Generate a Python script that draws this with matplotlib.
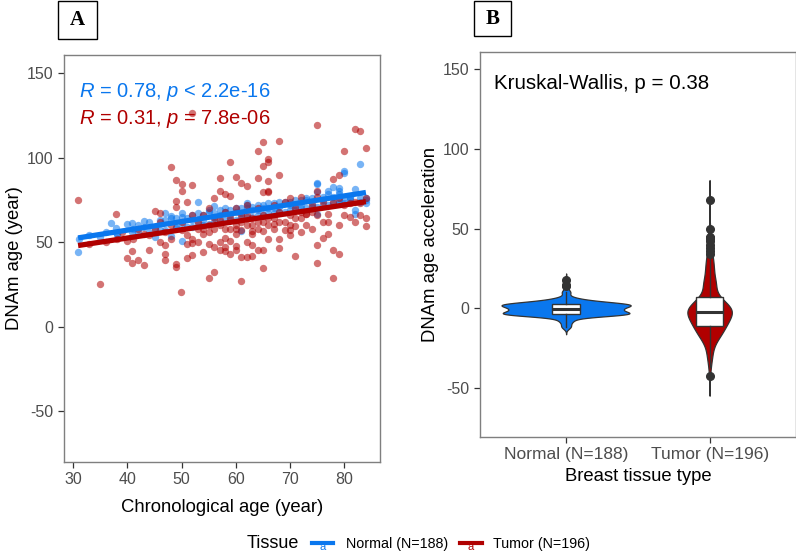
import numpy as np
import matplotlib
matplotlib.use("Agg")
from matplotlib import pyplot as plt
from matplotlib.lines import Line2D
from matplotlib.patches import Rectangle

plt.rcParams['font.family'] = ['Liberation Sans', 'DejaVu Sans']
plt.rcParams['axes.unicode_minus'] = False
plt.rcParams['mathtext.fontset'] = 'custom'
plt.rcParams['mathtext.rm'] = 'Liberation Sans'
plt.rcParams['mathtext.it'] = 'Liberation Sans:italic'

# ---- data (chronological age, DNAm age) ----
normal_age = [30.9, 31, 33, 35, 36, 37, 37.9, 38, 39.9, 40.9, 41.9, 40.9, 43, 45, 45, 46.9, 48, 48, 49, 50,
              50, 53, 55, 56, 74.9, 78, 80, 82, 84, 84, 77, 79, 80, 81, 75, 75, 75, 82, 82, 61,
              82.9, 80, 75, 79, 79, 42, 44, 46, 47, 48, 49, 50, 51, 51, 52, 52, 53, 53, 54, 54,
              55, 55, 56, 56, 57, 57, 58, 58, 58, 59, 59, 60, 60, 60, 61, 61, 62, 62, 62, 63,
              63, 64, 64, 64, 65, 65, 66, 66, 66, 67, 67, 68, 68, 69, 69, 70, 70, 71, 71, 72,
              72, 73, 73, 74, 74, 76, 76, 77, 78, 78, 79, 80, 81, 83, 84, 44, 46, 47, 49, 54,
              57, 59, 63, 65, 68, 70, 72, 74, 76, 81, 83, 38, 41, 43, 50, 52, 56, 61, 67, 71,
              79, 77, 73, 62]
normal_dnam = [44.4, 52, 54, 53, 56, 61.6, 58.6, 55, 60.6, 61.6, 55.7, 55.7, 62.6, 58.6, 53.3, 67.5, 65.6, 53.7, 58.6, 67.5,
               50.6, 73.9, 69.3, 71.3, 84.7, 82.8, 91.2, 81.4, 76, 72.9, 78.4, 78.4, 76, 76.4, 79.8, 66.9, 70.5, 69, 66.6, 56.7,
               96.4, 92.2, 85.3, 82, 80, 60, 56, 63, 57, 64, 59, 65, 59, 64, 66, 59, 61, 67, 60, 66,
               68, 61, 62, 67, 69, 62, 63, 68, 70, 63, 69, 70, 63, 68, 64, 70, 65, 70, 72, 65,
               71, 66, 72, 69, 66, 72, 67, 73, 70, 67, 73, 68, 74, 68, 74, 69, 74, 69, 75, 70,
               75, 70, 75, 71, 76, 72, 77, 72, 73, 77, 73, 73, 77, 74, 75, 62, 57, 63, 64, 63,
               66, 66, 69, 70, 71, 72, 72, 73, 75, 75, 76, 55, 58, 59, 61, 63, 65, 67, 70, 72,
               75, 80, 76, 73]

tumor_age = [30.9, 34.9, 37.9, 40, 40.9, 44, 40, 40.9, 41.9, 43, 49.9, 49, 49, 47, 47, 46, 47, 51, 52, 51,
             52, 55, 56, 57, 56, 55, 46, 61, 65, 78, 75, 75, 76, 77, 78, 79, 84, 82, 81, 79,
             71, 68, 63, 64, 65, 63, 62, 61, 59, 60, 58, 59, 60, 58, 65, 70, 71, 73, 77, 75,
             82, 83, 84, 80, 65, 68, 64, 66, 66, 65, 59, 60, 61, 62, 64, 66, 68, 79, 78, 75,
             65, 66, 48, 49, 50, 52, 50, 49, 51, 49, 57, 57, 56, 45, 52, 75, 72, 70, 73, 70,
             69, 67, 63, 63, 66, 58, 59, 32.9, 50, 51, 54, 42, 44, 38, 36, 46, 48, 53, 54, 55,
             57, 58, 60, 61, 62, 64, 66, 67, 68, 69, 71, 72, 74, 76, 78, 80, 81, 83, 84, 53,
             55, 56, 58, 60, 61, 62, 64, 65, 67, 70, 73, 74, 76, 79, 80, 82, 47, 48, 45, 43,
             41, 39, 52, 53, 54, 57, 58, 59, 60, 62, 63, 66, 68, 69, 72, 74, 77, 83, 84, 50,
             52, 54, 55, 56, 57, 59, 60, 61, 62, 63, 64, 65, 66, 67, 68, 70, 71, 72, 75]
tumor_dnam = [75.0, 25.1, 66.4, 50.8, 44.8, 45.3, 40.5, 37.9, 39.5, 36.4, 20.7, 37, 35, 43.2, 39.3, 50.2, 48.4, 40.5, 42.5, 48.8,
              49.2, 48.8, 47.2, 45.4, 32.4, 28.7, 67.4, 27.1, 34.4, 28.7, 37.9, 48.2, 52.7, 55.1, 45.4, 42.7, 59.7, 62.2, 65, 60.1,
              41.9, 46.8, 48.2, 45.4, 45.4, 41.7, 40.9, 41.3, 42.7, 45.3, 44.8, 50.4, 47.8, 52.7, 56.7, 54.3, 59.7, 66.6, 66.6, 119.5,
              116.9, 115.9, 105.5, 103.7, 109.4, 110, 103.7, 99.5, 97.6, 95.2, 97.7, 88.3, 85.3, 83.4, 87.7, 86.3, 89.7, 89.9, 87.3, 80.4,
              79.4, 80, 94.2, 86.9, 84.4, 84, 80, 74.5, 73.5, 70.9, 87.7, 80.4, 76, 68.5, 126.4, 76.8, 76.8, 76, 66.9, 57.1,
              57.1, 60.6, 56.7, 54.7, 79.4, 78.4, 77.4, 49, 57, 54, 54.7, 58, 54, 52, 50, 62, 60, 62, 66, 60,
              63, 68, 70, 62, 66, 70, 64, 72, 68, 74, 70, 64, 72, 74, 74, 72, 73, 73, 76, 58,
              56, 64, 58, 60, 57, 72, 62, 66, 58, 66, 60, 68, 62, 76, 66, 74, 56, 52, 58, 55,
              52, 56, 52, 50, 44, 50, 47, 58, 55, 50, 64, 52, 52, 62, 56, 58, 62, 66, 64, 62,
              66, 58, 70, 58, 60, 64, 58, 66, 60, 60, 58, 62, 60, 64, 62, 60, 64, 68, 66]

groups = ['Normal', 'Tumor']
group_n = [188, 196]
colors = ['#0A77EE', '#B00000']
r_texts = [r'$\it{R}$ = 0.78, $\it{p}$ < 2.2e-16', r'$\it{R}$ = 0.31, $\it{p}$ = 7.8e-06']
kw_text = 'Kruskal-Wallis, p = 0.38'

W, H = 796, 553
fig = plt.figure(figsize=(W / 100, H / 100), dpi=100)


def frac_rect(l, t, r, b):
    return [l / W, 1 - b / H, (r - l) / W, (b - t) / H]


def style_axes(ax):
    for s in ax.spines.values():
        s.set_color('#7F7F7F')
        s.set_linewidth(1.0)
    ax.tick_params(axis='both', colors='#333333', labelcolor='#4D4D4D', labelsize=11.5, length=4, width=0.9)


# ---- panel A ----
ax1 = fig.add_axes(frac_rect(64, 55, 380, 462))
ages = [np.array(normal_age), np.array(tumor_age)]
dnams = [np.array(normal_dnam), np.array(tumor_dnam)]
for a, d, c in zip(ages, dnams, colors):
    ax1.scatter(a, d, s=28, color=c, alpha=0.55, lw=0, zorder=2)
resid = []
for a, d, c in zip(ages, dnams, colors):
    k, b0 = np.polyfit(a, d, 1)
    xx = np.array([a.min(), a.max()])
    ax1.plot(xx, k * xx + b0, color=c, lw=3.8, solid_capstyle='butt', zorder=3)
    resid.append(d - (k * a + b0))
ax1.set_xlim(28.3, 86.6)
ax1.set_ylim(-80.2, 160.8)
ax1.set_xticks([30, 40, 50, 60, 70, 80])
ax1.set_yticks([-50, 0, 50, 100, 150])
ax1.set_xlabel('Chronological age (year)', fontsize=13.3, labelpad=8)
ax1.set_ylabel('DNAm age (year)', fontsize=13.3, labelpad=3)
style_axes(ax1)
ax1.text(0.047, 0.897, r_texts[0], transform=ax1.transAxes, color=colors[0], fontsize=14.5, va='baseline')
ax1.text(0.047, 0.830, r_texts[1], transform=ax1.transAxes, color=colors[1], fontsize=14.5, va='baseline')

# ---- panel B ----
ax2 = fig.add_axes(frac_rect(480, 51.7, 795.7, 436.7))
pos = [1, 2]
dens = []
for r in resid:
    n = len(r)
    iqr = np.subtract(*np.percentile(r, [75, 25]))
    bw = 0.9 * min(r.std(ddof=1), iqr / 1.34) * n ** -0.2
    grid = np.linspace(r.min() - 3 * bw, r.max() + 3 * bw, 400)
    kd = np.exp(-0.5 * ((grid[:, None] - r[None, :]) / bw) ** 2).sum(1) / (n * bw * np.sqrt(2 * np.pi))
    dens.append((grid, kd))
dmax = max(kd.max() for _, kd in dens)
for (grid, kd), p, c in zip(dens, pos, colors):
    w = kd / dmax * 0.45
    ax2.fill_betweenx(grid, p - w, p + w, facecolor=c, edgecolor='#333333', lw=0.9, zorder=2)
ax2.boxplot(resid, positions=pos, widths=0.19, patch_artist=True,
            boxprops=dict(facecolor='white', edgecolor='#333333', lw=1.0),
            medianprops=dict(color='#333333', lw=2.2),
            whiskerprops=dict(color='#333333', lw=1.0),
            capprops=dict(lw=0),
            flierprops=dict(marker='o', markerfacecolor='#333333', markeredgecolor='#333333', markersize=5.5),
            zorder=3)
ax2.set_xlim(0.4, 2.6)
ax2.set_ylim(-80.4, 161)
ax2.set_xticks(pos)
ax2.set_xticklabels(['%s (N=%d)' % (g, n) for g, n in zip(groups, group_n)], fontsize=12.5)
ax2.set_yticks([-50, 0, 50, 100, 150])
ax2.set_xlabel('Breast tissue type', fontsize=13.3, labelpad=4)
ax2.set_ylabel('DNAm age acceleration', fontsize=13.3, labelpad=3)
style_axes(ax2)
ax2.tick_params(axis='x', labelsize=12.5)
ax2.text(0.044, 0.903, kw_text, transform=ax2.transAxes, fontsize=14.8, va='baseline')

# ---- panel letters ----
for l, t, r, b, lab in [(58, 1, 97, 39, 'A'), (474, 1, 511, 36, 'B')]:
    fig.add_artist(Rectangle((l / W, 1 - b / H), (r - l) / W, (b - t) / H, transform=fig.transFigure,
                             fill=False, edgecolor='black', lw=1.0))
    fig.text((l + r) / 2 / W, 1 - (t + b) / 2 / H, lab, family='Liberation Serif', weight='bold',
             fontsize=15, ha='center', va='center')

# ---- legend at the bottom ----
ly = 1 - 544 / H
fig.text(246.7 / W, ly, 'Tissue', fontsize=13, va='center')
for (x0, x1, tx), g, n, c in zip([(312, 333, 345.7), (460, 481.5, 493.3)], groups, group_n, colors):
    fig.text((x0 + x1) / 2 / W, ly - 3 / H, 'a', color=c, fontsize=8, ha='center', va='center')
    fig.add_artist(Line2D([x0 / W, x1 / W], [ly + 1 / H, ly + 1 / H], color=c, lw=3, transform=fig.transFigure))
    fig.text(tx / W, ly, '%s (N=%d)' % (g, n), fontsize=10.3, va='center')

fig.savefig('out.png', dpi=100)
